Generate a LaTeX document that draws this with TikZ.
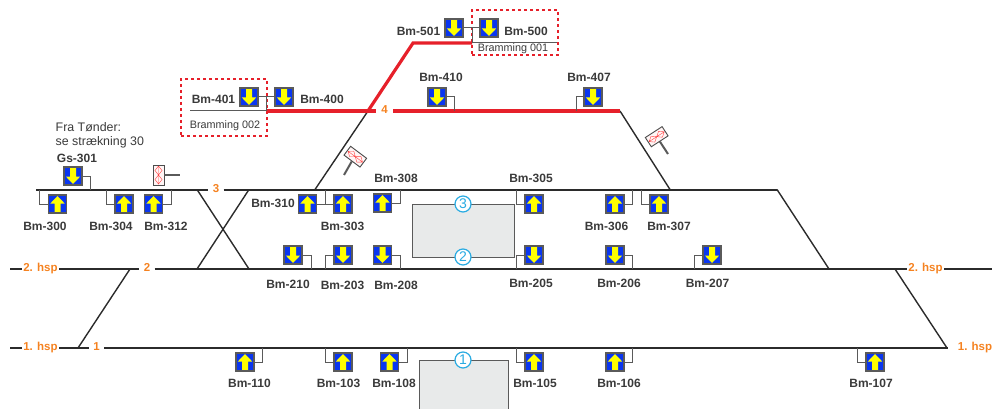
\documentclass[tikz,border=0pt]{standalone}
\usepackage{fontspec}
\setmainfont{Liberation Sans}
\definecolor{trackdark}{HTML}{2B2B2B}
\definecolor{trackred}{HTML}{E6202A}
\definecolor{stemgrey}{HTML}{5A5A5A}
\definecolor{signalblue}{HTML}{0A36F0}
\definecolor{arrowyellow}{HTML}{FFFF00}
\definecolor{textdark}{HTML}{3A3A3A}
\definecolor{hsporange}{HTML}{F58220}
\definecolor{platformfill}{HTML}{E8EAEA}
\definecolor{circlecyan}{HTML}{29ABE2}
\begin{document}
\begin{tikzpicture}[x=1pt, y=-1pt,
	track/.style = {draw=trackdark, line width=2pt},
	branch/.style = {draw=trackdark, line width=1.4pt},
	redtrack/.style = {draw=trackred, line width=3.2pt},
	stem/.style = {draw=stemgrey, line width=1pt},
	signalbox/.style = {shape=rectangle, draw=stemgrey, line width=1.1pt, fill=signalblue,
		minimum size=18pt, inner sep=0pt},
	sigdown/.style = {signalbox, path picture={
		\fill[arrowyellow] ([shift={(-3pt,9pt)}]path picture bounding box.center) -- ++(6pt,0pt) -- ++(0pt,-9.5pt)
			-- ++(4.2pt,0pt) -- ++(-7.2pt,-7.5pt) -- ++(-7.2pt,7.5pt) -- ++(4.2pt,0pt) -- cycle;}},
	sigup/.style = {signalbox, path picture={
		\fill[arrowyellow] ([shift={(-3pt,-9pt)}]path picture bounding box.center) -- ++(6pt,0pt) -- ++(0pt,9.5pt)
			-- ++(4.2pt,0pt) -- ++(-7.2pt,7.5pt) -- ++(-7.2pt,-7.5pt) -- ++(4.2pt,0pt) -- cycle;}},
	bmtext/.style = {font=\fontsize{12}{14}\selectfont\bfseries, text=textdark, inner sep=0pt},
	bramtext/.style = {font=\fontsize{10.8}{13}\selectfont, text=textdark, inner sep=0pt},
	nrtext/.style = {font=\fontsize{11.5}{14}\selectfont\bfseries, text=hsporange, inner sep=1.5pt,
		text height=8.3pt, text depth=2.4pt},
	nrgap/.style = {nrtext, inner xsep=4.2pt},
	fratext/.style = {font=\fontsize{12.4}{14.5}\selectfont, text=textdark, align=left, inner sep=0pt},
	dashbox/.style = {draw=trackred, line width=1.5pt, dash pattern=on 3pt off 3pt},
	platform/.style = {draw=stemgrey, line width=1pt, fill=platformfill},
	platedge/.style = {draw=stemgrey, line width=1pt},
	circ/.style = {shape=circle, draw=circlecyan, line width=1.2pt, fill=white, text=circlecyan,
		minimum size=16pt, inner sep=0pt, font=\fontsize{14}{14}\selectfont},
	signpost/.style = {draw=stemgrey, line width=2pt},
	signplate/.style = {shape=rectangle, draw=black!70, line width=0.9pt, fill=red!4,
		minimum width=20pt, minimum height=11pt, inner sep=0pt, path picture={
		\draw[red!75, line width=0.4pt] ([shift={(-9pt,0pt)}]path picture bounding box.center) -- ++(18pt,0pt)
			-- ++(-4.5pt,3.5pt) -- ++(-4.5pt,-3.5pt) -- ++(-4.5pt,3.5pt) -- ++(-4.5pt,-3.5pt)
			-- ++(4.5pt,-3.5pt) -- ++(4.5pt,3.5pt) -- ++(4.5pt,-3.5pt) -- ++(4.5pt,3.5pt);}}]
	\useasboundingbox (0,0) rectangle (992,409);

	\coordinate (t3l) at (36,189.5);
	\coordinate (t3r) at (777,189.5);
	\coordinate (t2l) at (10,269);
	\coordinate (t2r) at (992,269);
	\coordinate (t1l) at (10,348);
	\coordinate (t1r) at (948,348);
	\coordinate (r4l) at (266,111);
	\coordinate (r4r) at (620,111);
	\coordinate (r4k) at (368,111);
	\coordinate (r5l) at (413,43);
	\coordinate (r5r) at (472,43);
	\coordinate (g5r) at (558,43);
	\coordinate (g4l) at (190,111);
	\coordinate (j315) at (315,189.5);
	\coordinate (j670) at (670,189.5);
	\coordinate (j829) at (829,269);
	\coordinate (j895) at (895,269);
	\coordinate (j947) at (947,348);
	\coordinate (j78) at (78,348);
	\coordinate (j130) at (130,269);
	\coordinate (x197a) at (197,189.5);
	\coordinate (x249a) at (249,189.5);
	\coordinate (x197b) at (197,269);
	\coordinate (x249b) at (249,269);

	\node[nrgap] (nr3) at (216,189.5) {3};
	\node[nrgap] (nr2) at (147,269) {2};
	\node[nrgap] (nr1) at (96.5,348) {1};
	\node[nrgap, inner xsep=5.3pt] (nr4) at (384.5,111) {4};
	\node[nrtext] (hsp2l) at (40.5,269) {2. hsp};
	\node[nrtext] (hsp1l) at (40.5,348) {1. hsp};
	\node[nrtext] (hsp2r) at (925.5,269) {2. hsp};
	\node[nrtext] (hsp1r) at (975,348) {1. hsp};

	\draw[track] (t3l) -- (nr3) -- (t3r);
	\draw[track] (t2l) -- (hsp2l) -- (nr2) -- (hsp2r) -- (t2r);
	\draw[track] (t1l) -- (hsp1l) -- (nr1) -- (t1r);
	\draw[branch] (x197a) -- (x249b);
	\draw[branch] (x249a) -- (x197b);
	\draw[branch] (j78) -- (j130);
	\draw[branch] (j315) -- (r4k);
	\draw[branch] (r4r) -- (j670);
	\draw[branch] (t3r) -- (j829);
	\draw[branch] (j895) -- (j947);
	\draw[stem] (g4l) -- (r4l);
	\draw[stem] (r5r) -- (g5r);
	\draw[redtrack] (r4l) -- (nr4) -- (r4r);
	\draw[redtrack, line join=miter] (r4k) -- (r5l) -- (r5r);

	\node[platform, minimum width=102pt, minimum height=53pt] (plat23) at (463,230.5) {};
	\coordinate (p1a) at (419,409);
	\coordinate (p1b) at (508,409);
	\coordinate (p1c) at (419,360);
	\coordinate (p1d) at (508,360);
	\fill[platformfill] (p1a) rectangle (p1d);
	\draw[platedge] (p1a) -- (p1c) -- (p1d) -- (p1b);
	\node[circ] (circ3) at (463,204) {3};
	\node[circ] (circ2) at (463,257) {2};
	\node[circ] (circ1) at (463,360) {1};

	\node[dashbox, minimum width=86pt, minimum height=45pt] (box001) at (515,32.5) {};
	\node[dashbox, minimum width=86pt, minimum height=57pt] (box002) at (224,107.5) {};
	\node[bramtext] (bram001) at (513,48.5) {Bramming 001};
	\node[bramtext] (bram002) at (225,125.5) {Bramming 002};
	\node[fratext, anchor=north west] (fra) at (55.5,122) {Fra Tønder:\\se strækning 30};

	\node[sigdown] (bm501) at (454,28) {};
	\node[bmtext] (lb501) at (418.5,31) {Bm-501};
	\node[sigdown] (bm500) at (489,28) {};
	\node[bmtext] (lb500) at (526,31) {Bm-500};
	\node[sigdown] (bm401) at (249,97) {};
	\node[bmtext] (lb401) at (213.5,99) {Bm-401};
	\node[sigdown] (bm400) at (284,97) {};
	\node[bmtext] (lb400) at (322,99) {Bm-400};
	\node[sigdown] (bm410) at (437,97) {};
	\node[bmtext] (lb410) at (441,77) {Bm-410};
	\node[sigdown] (bm407) at (593,97) {};
	\node[bmtext] (lb407) at (589,77) {Bm-407};
	\node[sigdown] (gs301) at (73,176) {};
	\node[bmtext] (lbgs) at (77,158) {Gs-301};
	\node[sigup] (bm300) at (57.5,204) {};
	\node[bmtext] (lb300) at (45,226) {Bm-300};
	\node[sigup] (bm304) at (124,204) {};
	\node[bmtext] (lb304) at (111,226) {Bm-304};
	\node[sigup] (bm312) at (153.5,204) {};
	\node[bmtext] (lb312) at (166,226) {Bm-312};
	\node[sigup] (bm310) at (307.5,204) {};
	\node[bmtext] (lb310) at (273,203) {Bm-310};
	\node[sigup] (bm303) at (343,204) {};
	\node[bmtext] (lb303) at (342.5,226) {Bm-303};
	\node[sigup] (bm308) at (382.5,203) {};
	\node[bmtext] (lb308) at (396,178) {Bm-308};
	\node[sigup] (bm305) at (534,204) {};
	\node[bmtext] (lb305) at (531,178) {Bm-305};
	\node[sigup] (bm306) at (615,204) {};
	\node[bmtext] (lb306) at (606.5,226) {Bm-306};
	\node[sigup] (bm307) at (659,204) {};
	\node[bmtext] (lb307) at (669,226) {Bm-307};
	\node[sigdown] (bm210) at (293,255) {};
	\node[bmtext] (lb210) at (288,284) {Bm-210};
	\node[sigdown] (bm203) at (343,255) {};
	\node[bmtext] (lb203) at (342.5,285) {Bm-203};
	\node[sigdown] (bm208) at (382.5,255) {};
	\node[bmtext] (lb208) at (396,285) {Bm-208};
	\node[sigdown] (bm205) at (534,255) {};
	\node[bmtext] (lb205) at (531,283) {Bm-205};
	\node[sigdown] (bm206) at (615,255) {};
	\node[bmtext] (lb206) at (619,283) {Bm-206};
	\node[sigdown] (bm207) at (712,255) {};
	\node[bmtext] (lb207) at (707.5,283) {Bm-207};
	\node[sigup] (bm110) at (245,362) {};
	\node[bmtext] (lb110) at (249.5,383) {Bm-110};
	\node[sigup] (bm103) at (343,362) {};
	\node[bmtext] (lb103) at (338.5,383) {Bm-103};
	\node[sigup] (bm108) at (389.5,362) {};
	\node[bmtext] (lb108) at (394,383) {Bm-108};
	\node[sigup] (bm105) at (534,362) {};
	\node[bmtext] (lb105) at (535,383) {Bm-105};
	\node[sigup] (bm106) at (615,362) {};
	\node[bmtext] (lb106) at (619,383) {Bm-106};
	\node[sigup] (bm107) at (875,362) {};
	\node[bmtext] (lb107) at (871,383) {Bm-107};

	\coordinate (c472) at (472,43);
	\coordinate (c472m) at (472,28);
	\coordinate (c266) at (266.5,111);
	\coordinate (c266m) at (266.5,97);
	\coordinate (c410) at (454,111);
	\coordinate (c407) at (576,111);
	\coordinate (cgs) at (90.7,189.5);
	\coordinate (c300) at (39.5,189.5);
	\coordinate (c304) at (106,189.5);
	\coordinate (c312) at (171,189.5);
	\coordinate (c325t) at (325,189.5);
	\coordinate (c325m) at (325,204);
	\coordinate (c308) at (400,189.5);
	\coordinate (c305) at (516,189.5);
	\coordinate (c306) at (632.7,189.5);
	\coordinate (c307) at (641.7,189.5);
	\coordinate (c210) at (311,269);
	\coordinate (c203) at (325,269);
	\coordinate (c208) at (400,269);
	\coordinate (c205) at (516,269);
	\coordinate (c206) at (632.7,269);
	\coordinate (c207) at (694,269);
	\coordinate (c110) at (262.7,348);
	\coordinate (c103) at (325,348);
	\coordinate (c108) at (407.7,348);
	\coordinate (c105) at (516,348);
	\coordinate (c106) at (632.7,348);
	\coordinate (c107) at (857.7,348);

	\draw[stem] (bm501) -- (bm500);
	\draw[stem] (c472m) -- (c472);
	\draw[stem] (bm401) -- (bm400);
	\draw[stem] (c266m) -- (c266);
	\draw[stem] (bm410.east) -| (c410);
	\draw[stem] (bm407.west) -| (c407);
	\draw[stem] (gs301.east) -| (cgs);
	\draw[stem] (bm300.west) -| (c300);
	\draw[stem] (bm304.west) -| (c304);
	\draw[stem] (bm312.east) -| (c312);
	\draw[stem] (bm310) -- (bm303);
	\draw[stem] (c325m) -- (c325t);
	\draw[stem] (bm308.east) -| (c308);
	\draw[stem] (bm305.west) -| (c305);
	\draw[stem] (bm306.east) -| (c306);
	\draw[stem] (bm307.west) -| (c307);
	\draw[stem] (bm210.east) -| (c210);
	\draw[stem] (bm203.west) -| (c203);
	\draw[stem] (bm208.east) -| (c208);
	\draw[stem] (bm205.west) -| (c205);
	\draw[stem] (bm206.east) -| (c206);
	\draw[stem] (bm207.west) -| (c207);
	\draw[stem] (bm110.east) -| (c110);
	\draw[stem] (bm103.west) -| (c103);
	\draw[stem] (bm108.east) -| (c108);
	\draw[stem] (bm105.west) -| (c105);
	\draw[stem] (bm106.east) -| (c106);
	\draw[stem] (bm107.west) -| (c107);

	\coordinate (postA) at (180,175);
	\coordinate (postB) at (344,175);
	\coordinate (postC) at (668,154);
	\node[signplate, rotate=90] (signA) at (158.5,175) {};
	\node[signplate, rotate=-37] (signB) at (355.3,156.7) {};
	\node[signplate, rotate=33] (signC) at (656.7,136.7) {};
	\draw[signpost] (signA.south) -- (postA);
	\draw[signpost] (signB.south) -- (postB);
	\draw[signpost] (signC.south) -- (postC);
\end{tikzpicture}
\end{document}
